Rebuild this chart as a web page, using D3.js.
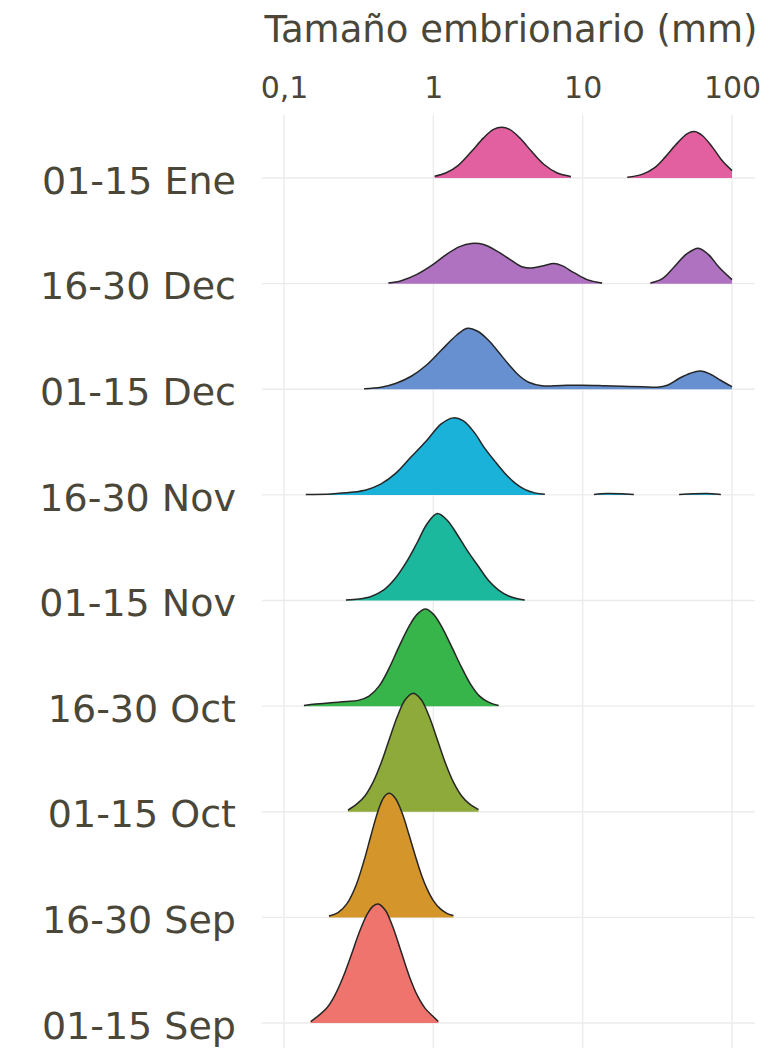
<!DOCTYPE html>
<html>
<head>
<meta charset="utf-8">
<script src="https://cdn.jsdelivr.net/npm/d3@7"></script>
<style>
  html, body { margin: 0; padding: 0; background: #ffffff; }
  svg text { font-family: "DejaVu Sans", sans-serif; fill: #4a4739; }
</style>
</head>
<body>
<script>
// Fortnightly periods, bottom row first
const categories = ["01-15 Sep", "16-30 Sep", "01-15 Oct", "16-30 Oct", "01-15 Nov",
                    "16-30 Nov", "01-15 Dec", "16-30 Dec", "01-15 Ene"];
const fills = ["#f0746e", "#d4952b", "#8daa3b", "#37b44a", "#1cb89e",
               "#1ab2d8", "#6790d0", "#af72c0", "#e2609f"];

const tickValues = [0.1, 1, 10, 100];
const tickLabels = ["0,1", "1", "10", "100"];

// Density profiles: [embryo size (mm), ridge height (in row units)]
const sep01 = [[0.151,0.014],[0.171,0.072],[0.194,0.144],[0.219,0.262],[0.248,0.43],[0.281,0.637],
  [0.318,0.852],[0.360,1.028],[0.395,1.107],[0.427,1.127],[0.476,1.07],[0.538,0.902],[0.609,0.674],
  [0.689,0.446],[0.781,0.261],[0.884,0.136],[0.985,0.069],[1.08,0.014]];

const sep16 = [[0.200,0.013],[0.230,0.045],[0.264,0.13],[0.303,0.30],[0.344,0.54],[0.383,0.78],
  [0.427,1.01],[0.468,1.14],[0.506,1.174],[0.555,1.13],[0.619,0.985],[0.689,0.777],[0.757,0.584],
  [0.830,0.407],[0.911,0.265],[1.0,0.159],[1.115,0.08],[1.242,0.036],[1.363,0.017]];

const oct01 = [[0.268,0.015],[0.308,0.074],[0.349,0.152],[0.395,0.28],[0.447,0.461],[0.506,0.681],
  [0.573,0.899],[0.648,1.061],[0.734,1.122],[0.830,1.061],[0.940,0.899],[1.064,0.681],[1.204,0.461],
  [1.363,0.28],[1.543,0.152],[1.746,0.074],[2.007,0.02]];

const oct16 = [[0.136,0.005],[0.163,0.019],[0.206,0.033],[0.26,0.043],[0.318,0.057],[0.371,0.095],
  [0.433,0.189],[0.506,0.36],[0.591,0.568],[0.689,0.758],[0.781,0.871],[0.884,0.919],[1.0,0.871],
  [1.132,0.758],[1.321,0.568],[1.543,0.369],[1.774,0.208],[2.039,0.095],[2.343,0.038],[2.736,0.005]];

const nov01 = [[0.26,0.005],[0.318,0.014],[0.383,0.038],[0.461,0.095],[0.555,0.208],[0.658,0.36],
  [0.78,0.549],[0.911,0.729],[1.064,0.824],[1.242,0.758],[1.473,0.606],[1.72,0.455],[2.007,0.322],
  [2.343,0.189],[2.736,0.099],[3.194,0.043],[3.615,0.019],[4.093,0.005]];

const nov16 = [[0.14,0.003],[0.206,0.009],[0.281,0.024],[0.354,0.047],[0.447,0.104],[0.564,0.208],
  [0.711,0.36],[0.897,0.51],[1.13,0.672],[1.36,0.729],[1.59,0.70],[1.89,0.587],[2.20,0.445],
  [2.57,0.322],[3.00,0.208],[3.51,0.114],[4.09,0.052],[4.78,0.019],[5.58,0.005]];
const nov16b = [[11.9,0.004],[14.5,0.012],[18.0,0.010],[22.0,0.004]];
const nov16c = [[44.2,0.004],[55,0.010],[68,0.012],[84.2,0.004]];

const dec01 = [[0.344,0.005],[0.447,0.019],[0.564,0.057],[0.711,0.123],[0.897,0.227],[1.13,0.369],
  [1.43,0.511],[1.69,0.578],[1.98,0.549],[2.34,0.464],[2.74,0.35],[3.19,0.237],[3.73,0.133],
  [4.35,0.066],[5.33,0.033],[7.26,0.036],[9.89,0.038],[13.5,0.034],[18.4,0.028],[25.0,0.024],
  [31.6,0.019],[36.9,0.038],[44.4,0.104],[52.7,0.152],[61.5,0.173],[71.8,0.142],[83.8,0.085],[100,0.024]];

const dec16 = [[0.50,0.005],[0.61,0.028],[0.77,0.085],[0.97,0.17],[1.22,0.275],[1.50,0.35],
  [1.80,0.38],[2.17,0.37],[2.65,0.31],[3.25,0.23],[3.91,0.16],[4.56,0.147],[5.49,0.17],[6.41,0.19],
  [7.26,0.17],[8.74,0.104],[10.7,0.038],[13.5,0.005]];
const dec16b = [[28.4,0.005],[34.2,0.047],[41.1,0.16],[49.5,0.28],[59.6,0.336],[69.6,0.275],
  [81.3,0.16],[100,0.038]];

const ene01 = [[1.02,0.017],[1.22,0.05],[1.47,0.12],[1.80,0.25],[2.17,0.38],[2.53,0.46],[2.87,0.48],
  [3.24,0.46],[3.79,0.38],[4.56,0.25],[5.49,0.13],[6.71,0.05],[8.34,0.015]];
const ene01b = [[19.9,0.006],[25.0,0.034],[30.2,0.096],[35.8,0.20],[43.0,0.33],[50.3,0.42],
  [56.1,0.44],[63.5,0.40],[74.1,0.29],[86.4,0.16],[100,0.07]];

const segmentsByRow = [[sep01], [sep16], [oct01], [oct16], [nov01],
                       [nov16, nov16b, nov16c], [dec01], [dec16, dec16b], [ene01, ene01b]];

const ridges = categories.map((c, i) => ({ cat: c, fill: fills[i], segs: segmentsByRow[i] }));

const W = 769, H = 1052;
const svg = d3.select("body").append("svg").attr("width", W).attr("height", H);
svg.append("rect").attr("width", W).attr("height", H).attr("fill", "#ffffff");

const x = d3.scaleLog().domain([0.1, 100]).range([284, 732]);
const y = d3.scalePoint().domain(categories).range([1023, 178]);
const step = Math.abs(y(categories[1]) - y(categories[0]));
const hScale = d3.scaleLinear().domain([0, 1]).range([0, step]);

const panel = { left: 262, right: 755, top: 115, bottom: 1048 };

// grid
const grid = svg.append("g").attr("stroke", "#ebebeb").attr("stroke-width", 1.4);
grid.selectAll("line.v").data(tickValues).join("line")
  .attr("x1", d => x(d)).attr("x2", d => x(d))
  .attr("y1", panel.top).attr("y2", panel.bottom);
grid.selectAll("line.h").data(categories).join("line")
  .attr("x1", panel.left).attr("x2", panel.right)
  .attr("y1", d => y(d)).attr("y2", d => y(d));

// ridges: top row first so lower rows overlap the ones above
const curve = d3.curveCatmullRom.alpha(0.5);
const ridgeG = svg.append("g");
ridges.slice().reverse().forEach(r => {
  const base = y(r.cat);
  const area = d3.area().x(d => x(d[0])).y0(base).y1(d => base - hScale(d[1])).curve(curve);
  const line = d3.line().x(d => x(d[0])).y(d => base - hScale(d[1])).curve(curve);
  r.segs.forEach(seg => {
    ridgeG.append("path").attr("d", area(seg)).attr("fill", r.fill).attr("stroke", "none");
    ridgeG.append("path").attr("d", line(seg)).attr("fill", "none")
      .attr("stroke", "#262626").attr("stroke-width", 1.5).attr("stroke-linejoin", "round");
  });
});

// top axis
const xAxis = d3.axisTop(x).tickValues(tickValues)
  .tickFormat((d, i) => tickLabels[i]).tickSize(0).tickPadding(3);
const gx = svg.append("g").attr("transform", "translate(0,101)").call(xAxis);
gx.select(".domain").remove();
gx.selectAll("text").attr("font-size", 30).attr("font-family", "DejaVu Sans").attr("fill", "#4a4739");

// left axis
const yAxis = d3.axisLeft(y).tickSize(0).tickPadding(4);
const gy = svg.append("g").attr("transform", "translate(240,0)").call(yAxis);
gy.select(".domain").remove();
gy.selectAll("text").attr("font-size", 38).attr("dy", "0.4em")
  .attr("font-family", "DejaVu Sans").attr("fill", "#4a4739");

// axis title
svg.append("text").attr("x", 511).attr("y", 42).attr("text-anchor", "middle")
  .attr("font-size", 37).text("Tamaño embrionario (mm)");
</script>
</body>
</html>
